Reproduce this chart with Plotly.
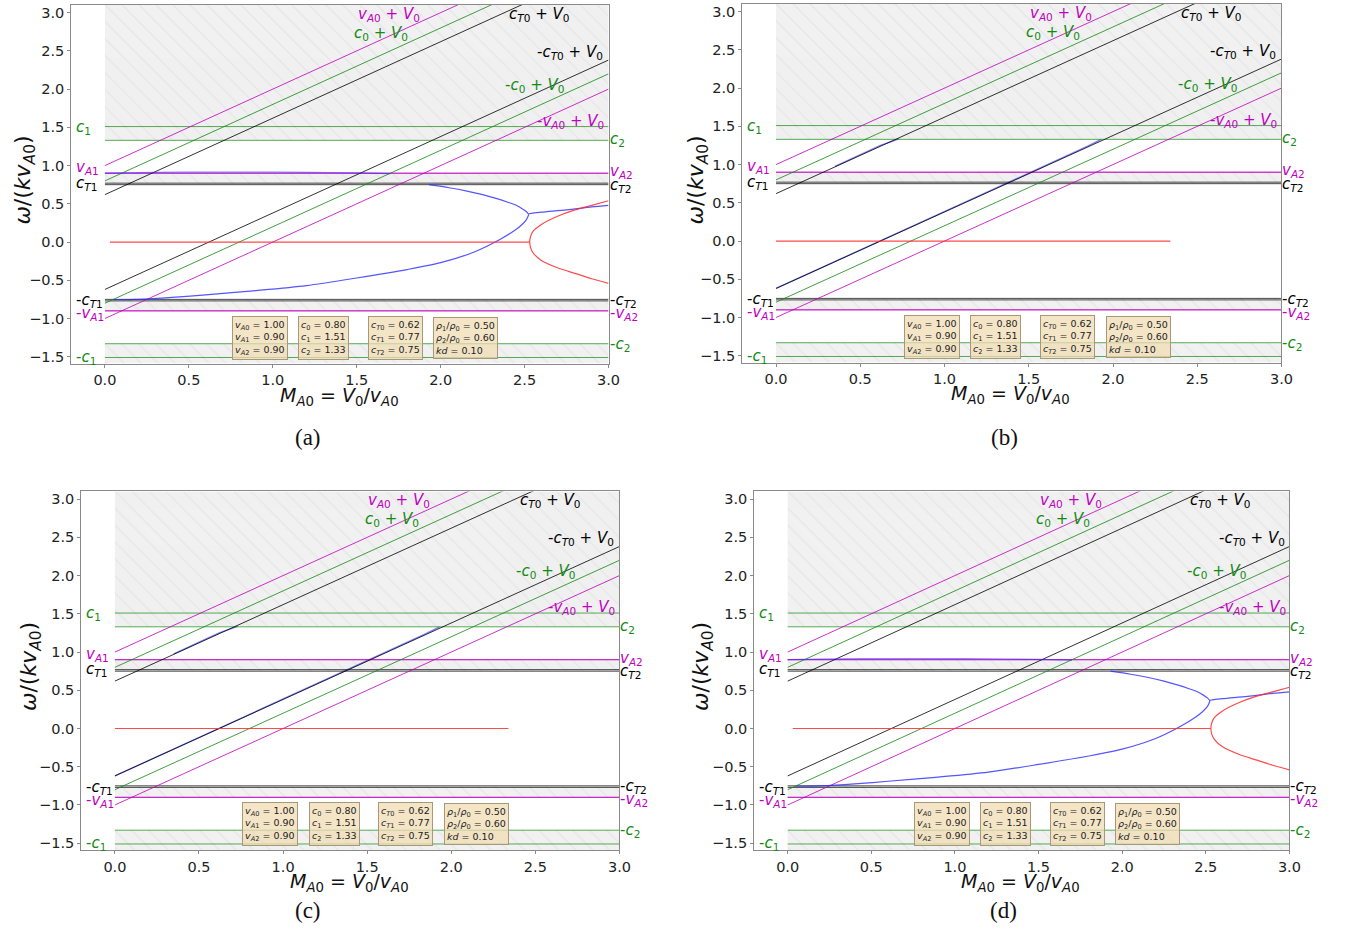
import plotly.graph_objects as go

# ---------------- data ----------------
X_RANGE = [-0.2, 3.0]
Y_RANGE = [-1.59, 3.1]
M_LIMITS = [0.0, 3.0]
X_TICKS = [0.0, 0.5, 1.0, 1.5, 2.0, 2.5, 3.0]
Y_TICKS = [-1.5, -1.0, -0.5, 0.0, 0.5, 1.0, 1.5, 2.0, 2.5, 3.0]

V_A0, V_A1, V_A2 = 1.00, 0.90, 0.90
C_0, C_1, C_2 = 0.80, 1.51, 1.33
C_T0, C_T1, C_T2 = 0.62, 0.77, 0.75
RHO1, RHO2, KD = 0.50, 0.60, 0.10

# shaded (hatched) bands: (low, high)
BAND_LOW = [1.33, 0.75, -0.90, -1.59]
BAND_HIGH = [3.10, 0.90, -0.75, -1.33]

# solutions for panels (a) and (d)
A_BLUE1_M = [0.0, 0.3, 0.6, 0.9, 1.2, 1.5, 1.7]
A_BLUE1_W = [0.90, 0.91, 0.915, 0.915, 0.912, 0.905, 0.895]
A_BLUE2_M = [1.93, 2.05, 2.15, 2.25, 2.33, 2.40, 2.45, 2.49, 2.51, 2.525]
A_BLUE2_W = [0.75, 0.71, 0.67, 0.62, 0.57, 0.52, 0.48, 0.43, 0.40, 0.36]
A_BLUE3_M = [2.525, 2.51, 2.48, 2.44, 2.35, 2.2, 2.0, 1.8, 1.5, 1.2, 0.9, 0.6, 0.4, 0.2, 0.05]
A_BLUE3_W = [0.36, 0.29, 0.22, 0.15, 0.03, -0.13, -0.27, -0.36, -0.47, -0.57, -0.635, -0.69, -0.725, -0.75, -0.755]
A_BLUE4_M = [2.525, 2.6, 2.75, 2.9, 3.0]
A_BLUE4_W = [0.37, 0.39, 0.42, 0.46, 0.48]
A_RED1_M = [0.03, 2.53]
A_RED1_W = [0.0, 0.0]
A_RED2_M = [2.53, 2.535, 2.55, 2.6, 2.7, 2.8, 2.9, 3.0]
A_RED2_W = [0.0, 0.07, 0.14, 0.23, 0.34, 0.42, 0.48, 0.54]
A_RED3_M = [2.53, 2.535, 2.55, 2.6, 2.7, 2.8, 2.9, 3.0]
A_RED3_W = [0.0, -0.07, -0.14, -0.24, -0.34, -0.41, -0.48, -0.54]

# solutions for panels (b) and (c)
B_BLUE1_M = [0.35, 0.5, 0.62, 0.73]
B_BLUE1_W = [0.975, 1.125, 1.25, 1.335]
B_BLUE2_M = [0.0, 0.75, 1.5, 1.7, 1.85, 1.93]
B_BLUE2_W = [-0.62, 0.13, 0.885, 1.09, 1.24, 1.33]
B_RED1_M = [0.0, 2.34]
B_RED1_W = [0.0, 0.0]

BOX_M = [0.925, 1.305, 1.73, 2.15]
BOX_W = -1.25

# ---------------- styling ----------------
W, H = 1348, 931
MAG = '#bf00bf'
GRN = '#138a13'
BLK = '#000000'
BLUE = '#2b2bff'
RED = '#ff2b2b'
FONT = 'DejaVu Sans'

# panel boxes in pixels: (left, right, top, bottom)
PANELS = [
    (72, 614, 5, 364, 'a'),
    (749, 1293, 4, 363, 'b'),
    (82, 625, 492, 851, 'c'),
    (761, 1301, 492, 851, 'd'),
]
YTITLE_POS = [(25, 180), (704, 180), (31, 667), (709, 667)]
XTITLE_POS = [(343, 397), (1020, 395), (353, 883), (1030, 883)]
CAPTION_POS = [(311, 438), (1014, 438), (311, 911), (1013, 911)]


def px(x):
    return x / W


def py(y):
    return 1 - y / H


def sub(s):
    return '<sub>' + s + '</sub>'


def it(s):
    return '<i>' + s + '</i>'


fig = go.Figure()
annotations = []
layout = {}

for i, (l, r, t, b, tag) in enumerate(PANELS):
    n = i + 1
    xa = 'x' if n == 1 else 'x%d' % n
    ya = 'y' if n == 1 else 'y%d' % n
    layout['xaxis' if n == 1 else 'xaxis%d' % n] = dict(
        domain=[px(l), px(r)], range=X_RANGE, anchor=ya,
        tickvals=X_TICKS, ticktext=['%.1f' % v for v in X_TICKS],
        showgrid=False, zeroline=False, showline=True, mirror=True,
        linecolor='#8a8a8a', linewidth=1.2, ticks='outside', ticklen=3,
        tickcolor='#8a8a8a', tickfont=dict(family=FONT, size=14.5, color='#222'))
    layout['yaxis' if n == 1 else 'yaxis%d' % n] = dict(
        domain=[py(b), py(t)], range=Y_RANGE, anchor=xa,
        tickvals=Y_TICKS, ticktext=[('%.1f' % v).replace('-', '\u2212') for v in Y_TICKS],
        showgrid=False, zeroline=False, showline=True, mirror=True,
        linecolor='#8a8a8a', linewidth=1.2, ticks='outside', ticklen=3,
        tickcolor='#8a8a8a', tickfont=dict(family=FONT, size=14.5, color='#222'))

    # hatched bands
    for lo, hi in zip(BAND_LOW, BAND_HIGH):
        fig.add_trace(go.Scatter(
            x=[M_LIMITS[0], M_LIMITS[1], M_LIMITS[1], M_LIMITS[0], M_LIMITS[0]],
            y=[lo, lo, hi, hi, lo], mode='lines', fill='toself',
            line=dict(width=0), fillcolor='#f1f1f1',
            fillpattern=dict(shape='\\', bgcolor='#f1f1f1', fgcolor='#dcdcdc', size=12, solidity=0.12),
            hoverinfo='skip', showlegend=False, xaxis=xa, yaxis=ya))

    if tag in ('a', 'd'):
        curves = [(A_BLUE1_M, A_BLUE1_W, BLUE, 0.55), (A_BLUE2_M, A_BLUE2_W, BLUE, 0.8),
                  (A_BLUE3_M, A_BLUE3_W, BLUE, 0.8), (A_BLUE4_M, A_BLUE4_W, BLUE, 0.8),
                  (A_RED1_M, A_RED1_W, RED, 0.85), (A_RED2_M, A_RED2_W, RED, 0.85),
                  (A_RED3_M, A_RED3_W, RED, 0.85)]
        under = []
    else:
        curves = [(B_RED1_M, B_RED1_W, RED, 0.85)]
        under = [(B_BLUE1_M, B_BLUE1_W, BLUE), (B_BLUE2_M, B_BLUE2_W, BLUE)]

    # solutions lying on the Doppler lines are drawn underneath them
    for mx, wy, c in under:
        fig.add_trace(go.Scatter(
            x=mx, y=wy, mode='lines', line=dict(color=c, width=1.4),
            opacity=0.6, hoverinfo='skip', showlegend=False, xaxis=xa, yaxis=ya))

    # horizontal speed lines
    for v, c in [(C_1, GRN), (C_2, GRN), (V_A1, MAG), (V_A2, MAG), (C_T1, BLK), (C_T2, BLK)]:
        for s in (1, -1):
            fig.add_trace(go.Scatter(
                x=M_LIMITS, y=[s * v, s * v], mode='lines',
                line=dict(color=c, width=1), opacity=0.7,
                hoverinfo='skip', showlegend=False, xaxis=xa, yaxis=ya))

    # Doppler shifted lines
    for v, c in [(V_A0, MAG), (C_0, GRN), (C_T0, BLK)]:
        for s in (1, -1):
            fig.add_trace(go.Scatter(
                x=M_LIMITS, y=[M_LIMITS[0] + s * v, M_LIMITS[1] + s * v], mode='lines',
                line=dict(color=c, width=1), opacity=0.8,
                hoverinfo='skip', showlegend=False, xaxis=xa, yaxis=ya))

    # solutions
    for mx, wy, c, op in curves:
        shape = 'spline' if len(mx) > 2 else 'linear'
        fig.add_trace(go.Scatter(
            x=mx, y=wy, mode='lines', line=dict(color=c, width=1.2, shape=shape, smoothing=0.8),
            opacity=op, hoverinfo='skip', showlegend=False, xaxis=xa, yaxis=ya))

    def lab(x, y, text, color, anchor='left', size=15):
        annotations.append(dict(x=x, y=y, xref=xa, yref=ya, text=text, showarrow=False,
                                xanchor=anchor, yanchor='middle', borderpad=0,
                                font=dict(family=FONT, size=size, color=color)))

    # left labels
    lab(-0.18, 1.50, it('c') + sub('1'), GRN)
    lab(-0.18, 0.97, it('v') + sub(it('A') + '1'), MAG)
    lab(-0.18, 0.77, it('c') + sub(it('T') + '1'), BLK)
    lab(-0.18, -0.77, '-' + it('c') + sub(it('T') + '1'), BLK)
    lab(-0.18, -0.94, '-' + it('v') + sub(it('A') + '1'), MAG)
    lab(-0.18, -1.51, '-' + it('c') + sub('1'), GRN)
    # right labels
    lab(3.0, 1.34, it('c') + sub('2'), GRN)
    lab(3.0, 0.92, it('v') + sub(it('A') + '2'), MAG)
    lab(3.0, 0.74, it('c') + sub(it('T') + '2'), BLK)
    lab(3.0, -0.76, '-' + it('c') + sub(it('T') + '2'), BLK)
    lab(3.0, -0.93, '-' + it('v') + sub(it('A') + '2'), MAG)
    lab(3.0, -1.34, '-' + it('c') + sub('2'), GRN)
    # line labels
    lab(1.50, 2.98, it('v') + sub(it('A') + '0') + ' + ' + it('V') + sub('0'), MAG)
    lab(1.48, 2.73, it('c') + sub('0') + ' + ' + it('V') + sub('0'), GRN)
    lab(2.40, 2.98, it('c') + sub(it('T') + '0') + ' + ' + it('V') + sub('0'), BLK)
    lab(2.57, 2.48, '-' + it('c') + sub(it('T') + '0') + ' + ' + it('V') + sub('0'), BLK)
    lab(2.38, 2.05, '-' + it('c') + sub('0') + ' + ' + it('V') + sub('0'), GRN)
    lab(2.57, 1.58, '-' + it('v') + sub(it('A') + '0') + ' + ' + it('V') + sub('0'), MAG)

    # info boxes
    box_texts = [
        [it('v') + sub(it('A') + '0') + ' = %.2f' % V_A0,
         it('v') + sub(it('A') + '1') + ' = %.2f' % V_A1,
         it('v') + sub(it('A') + '2') + ' = %.2f' % V_A2],
        [it('c') + sub('0') + ' = %.2f' % C_0,
         it('c') + sub('1') + ' = %.2f' % C_1,
         it('c') + sub('2') + ' = %.2f' % C_2],
        [it('c') + sub(it('T') + '0') + ' = %.2f' % C_T0,
         it('c') + sub(it('T') + '1') + ' = %.2f' % C_T1,
         it('c') + sub(it('T') + '2') + ' = %.2f' % C_T2],
        [it('ρ') + sub('1') + '/' + it('ρ') + sub('0') + ' = %.2f' % RHO1,
         it('ρ') + sub('2') + '/' + it('ρ') + sub('0') + ' = %.2f' % RHO2,
         it('kd') + ' = %.2f' % KD],
    ]
    for bm, lines in zip(BOX_M, box_texts):
        annotations.append(dict(x=bm, y=BOX_W, xref=xa, yref=ya, text='<br>'.join(lines),
                                showarrow=False, xanchor='center', yanchor='middle', align='left',
                                bgcolor='rgba(240,220,180,0.75)', bordercolor='#a89878',
                                borderwidth=1, borderpad=2,
                                font=dict(family=FONT, size=9.5, color='#222')))

    # axis titles and caption
    yx, yy = YTITLE_POS[i]
    annotations.append(dict(x=px(yx), y=py(yy), xref='paper', yref='paper', textangle=-90,
                            text=it('ω') + '/(' + it('kv') + sub(it('A') + '0') + ')',
                            showarrow=False, xanchor='center', yanchor='middle',
                            font=dict(family=FONT, size=22, color='#111')))
    xx, xy = XTITLE_POS[i]
    annotations.append(dict(x=px(xx), y=py(xy), xref='paper', yref='paper',
                            text=it('M') + sub(it('A') + '0') + ' = ' + it('V') + sub('0') + '/' + it('v') + sub(it('A') + '0'),
                            showarrow=False, xanchor='center', yanchor='middle',
                            font=dict(family=FONT, size=19, color='#111')))
    cx, cy = CAPTION_POS[i]
    annotations.append(dict(x=px(cx), y=py(cy), xref='paper', yref='paper', text='(%s)' % tag,
                            showarrow=False, xanchor='center', yanchor='middle',
                            font=dict(family='Liberation Serif', size=23, color='#111')))

fig.update_layout(width=W, height=H, margin=dict(l=0, r=0, t=0, b=0),
                  paper_bgcolor='white', plot_bgcolor='white', showlegend=False,
                  annotations=annotations, **layout)

fig.write_html('out.html', config={'displayModeBar': False},
               post_script="document.body.style.margin='0';document.body.style.overflow='hidden';")
